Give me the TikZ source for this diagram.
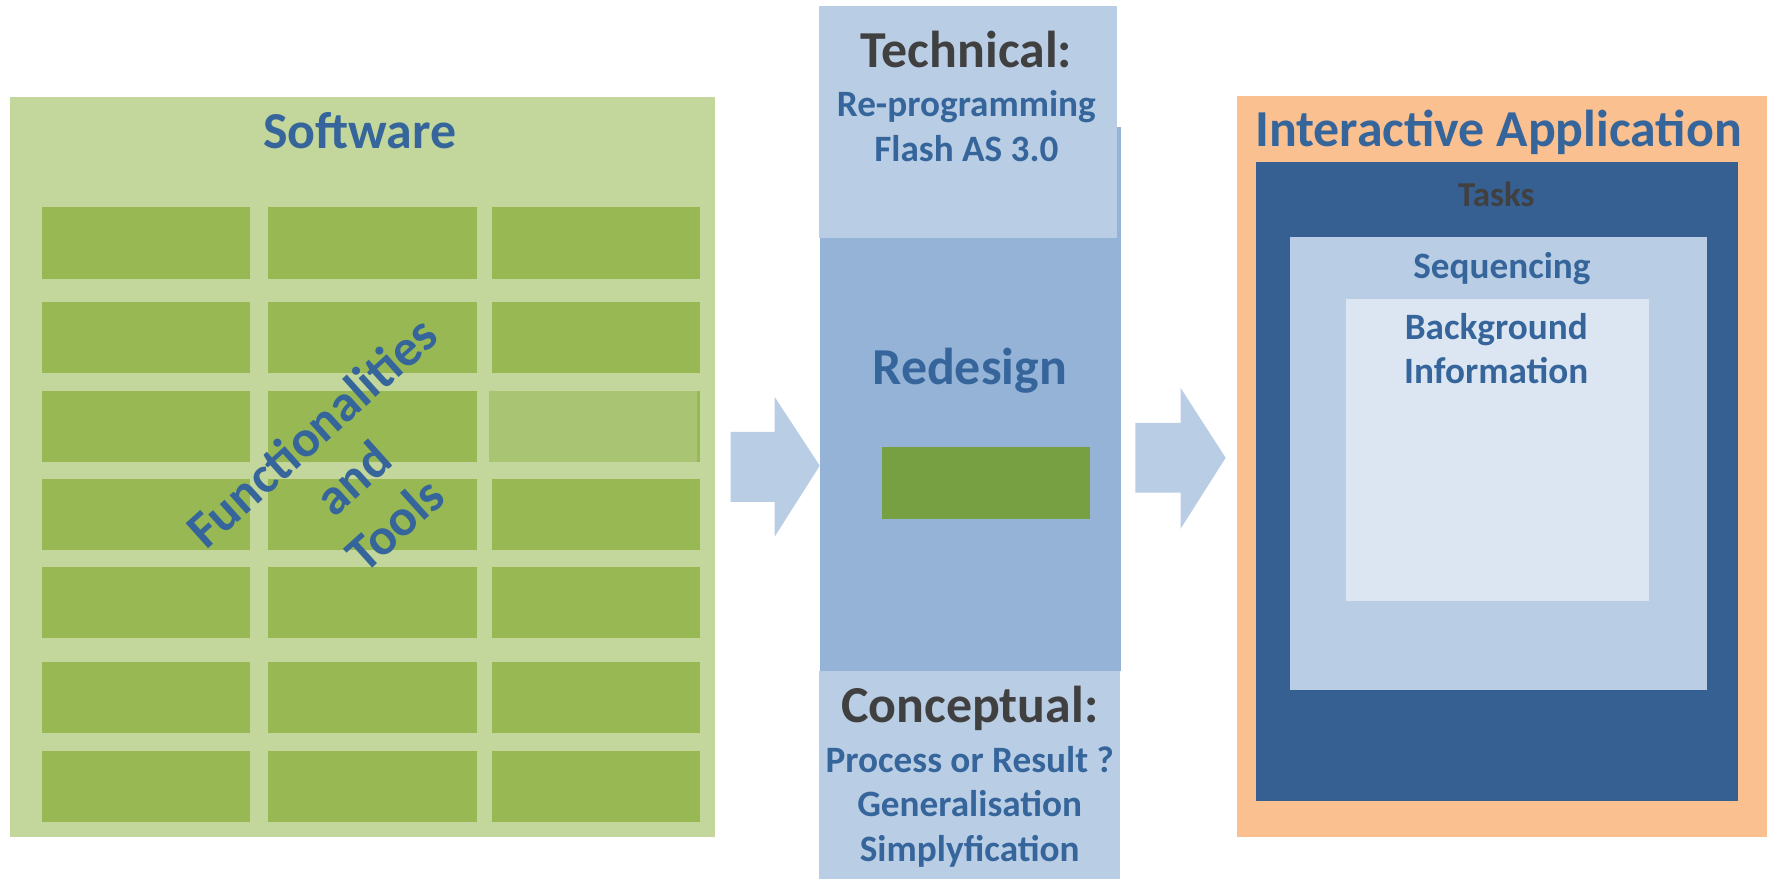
\documentclass[tikz,border=0pt]{standalone}
\usepackage{fontspec}
\setmainfont{Carlito}
\definecolor{panelgreen}{HTML}{C3D69B}
\definecolor{cellgreen}{HTML}{97B853}
\definecolor{celllight}{HTML}{A9C574}
\definecolor{bargreen}{HTML}{77A043}
\definecolor{lightblue}{HTML}{B9CDE5}
\definecolor{midblue}{HTML}{95B3D7}
\definecolor{paleblue}{HTML}{DCE6F2}
\definecolor{darkblue}{HTML}{366092}
\definecolor{textblue}{HTML}{35659B}
\definecolor{textgray}{HTML}{404040}
\definecolor{apporange}{HTML}{FAC090}
\tikzset{
  box/.style={draw=none, inner sep=0pt, outer sep=0pt, anchor=north west},
  cell/.style={box, fill=cellgreen, minimum width=185pt, minimum height=63pt},
  bigtxt/.style={inner sep=0pt, anchor=base, font=\bfseries\fontsize{46}{56}\selectfont},
  smalltxt/.style={inner sep=0pt, anchor=base, font=\bfseries\fontsize{33}{40}\selectfont},
  blockarrow/.style={fill=lightblue, draw=none}
}
\begin{document}
\begin{tikzpicture}[x=1pt,y=-1pt]
\useasboundingbox (0,0) rectangle (1568,779);
% Software panel
\node[box, fill=panelgreen, minimum width=625pt, minimum height=656pt] (software) at (9,86) {};
\foreach \r/\y in {1/184,2/268,3/347,4/425,5/503,6/587,7/666}{
  \foreach \c/\x in {1/37,2/238,3/436}{
    \node[cell] (c\r\c) at (\x,\y) {};
  }
}
\node[box, fill=celllight, minimum width=185pt, minimum height=63pt] (clight) at (434,347) {};
\fill[cellgreen] (618.5,347) rectangle (620.5,410);
\node[bigtxt, text=textblue] (softwaretitle) at (319,132) {Software};
\node[inner sep=0pt, rotate=42, align=center, text=textblue,
      font=\bfseries\fontsize{46}{55}\selectfont] (functxt) at (313,424) {Functionalities\\and\\Tools};
% Arrow 1
\fill[blockarrow] (648,383) -- (687,383) -- (687,352) -- (727,413) -- (687,476) -- (687,445) -- (648,445) -- cycle;
% Middle column
\node[box, fill=midblue, minimum width=267pt, minimum height=482pt] (redesign) at (727,113) {};
\node[box, fill=lightblue, minimum width=265pt, minimum height=206pt] (technical) at (726,5) {};
\node[box, fill=lightblue, minimum width=267pt, minimum height=185pt] (conceptual) at (726,595) {};
\node[box, fill=bargreen, minimum width=185pt, minimum height=64pt] (bar) at (782,396) {};
\node[bigtxt, text=textgray] (techtitle) at (857,60) {Technical:};
\node[smalltxt, text=textblue] (tech1) at (857,103) {Re-programming};
\node[smalltxt, text=textblue] (tech2) at (857,143) {Flash AS 3.0};
\node[bigtxt, text=textblue] (redesigntitle) at (860,341) {Redesign};
\node[bigtxt, text=textgray] (concepttitle) at (860,641) {Conceptual:};
\node[smalltxt, text=textblue] (conc1) at (860,685) {Process or Result ?};
\node[smalltxt, text=textblue] (conc2) at (860,724) {Generalisation};
\node[smalltxt, text=textblue] (conc3) at (860,764) {Simplyfication};
% Arrow 2
\fill[blockarrow] (1007,375) -- (1047,375) -- (1047,344) -- (1087,406) -- (1047,469) -- (1047,437) -- (1007,437) -- cycle;
% Interactive application
\node[box, fill=apporange, minimum width=470pt, minimum height=657pt] (app) at (1097,85) {};
\node[box, fill=darkblue, minimum width=427pt, minimum height=566pt] (tasks) at (1114,144) {};
\node[box, fill=lightblue, minimum width=370pt, minimum height=402pt] (seq) at (1144,210) {};
\node[box, fill=paleblue, minimum width=268pt, minimum height=268pt] (bg) at (1194,265) {};
\node[bigtxt, text=textblue] (apptitle) at (1329,130) {Interactive Application};
\node[inner sep=0pt, anchor=base, text=textgray, font=\bfseries\fontsize{31}{38}\selectfont] (taskstitle) at (1327,183) {Tasks};
\node[smalltxt, text=textblue] (seqtitle) at (1332,247) {Sequencing};
\node[smalltxt, text=textblue] (bg1) at (1327,301) {Background};
\node[smalltxt, text=textblue] (bg2) at (1327,340) {Information};
\end{tikzpicture}
\end{document}
